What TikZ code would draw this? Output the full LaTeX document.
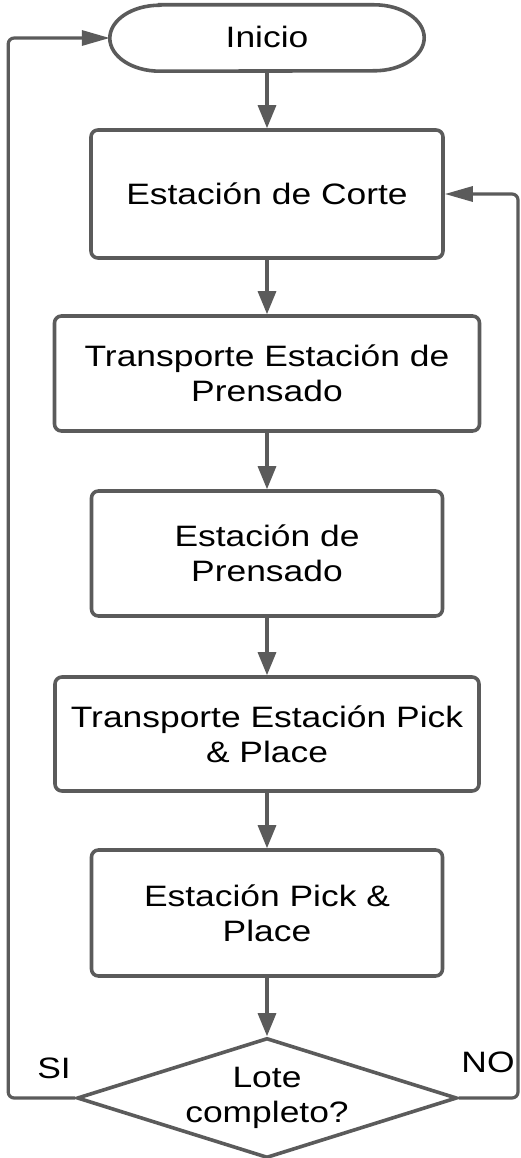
\documentclass[tikz,border=0pt]{standalone}
\usepackage{fontspec}
\setmainfont[FakeStretch=1.2]{Liberation Sans}
\usetikzlibrary{arrows.meta,shapes.geometric,calc}
\definecolor{lc}{HTML}{5B5B5B}
\begin{document}
\begin{tikzpicture}[x=1pt,y=-1pt,
 txt/.style={font=\fontsize{29.5}{35}\selectfont,text=black},
 box/.style={txt,draw=lc,line width=3.6pt,rounded corners=7pt,align=center,inner sep=0pt},
 conn/.style={draw=lc,line width=3.2pt,-{Triangle[length=23pt,width=18pt]}},
 hconn/.style={draw=lc,line width=3.2pt,rounded corners=6pt,-{Triangle[length=28pt,width=15pt]}}]
\useasboundingbox (0,0) rectangle (520,1158);
\node[txt,minimum width=314pt,minimum height=66pt,inner sep=0pt] (ini) at (267,38) {\raisebox{2pt}{Inicio}};
\draw[draw=lc,line width=3.6pt] ($(ini.north west)+(50,0)$) -- ($(ini.north east)+(-50,0)$)
  arc[start angle=-90,end angle=90,x radius=50,y radius=33]
  -- ($(ini.south west)+(50,0)$)
  arc[start angle=90,end angle=270,x radius=50,y radius=33] -- cycle;
\node[box,minimum width=352pt,minimum height=128pt] (corte) at (267,194) {Estación de Corte};
\node[box,minimum width=425pt,minimum height=115pt] (tp) at (267,373.5) {Transporte Estación de\\Prensado};
\node[box,minimum width=351pt,minimum height=125pt] (pr) at (267,553.5) {Estación de\\Prensado};
\node[box,minimum width=424pt,minimum height=114pt] (tpp) at (267,734) {Transporte Estación Pick\\\& Place};
\node[box,minimum width=351pt,minimum height=126pt] (pp) at (267,913) {Estación Pick \&\\Place};
\node[txt,draw=lc,line width=3.6pt,diamond,aspect=3.17,inner sep=0pt,minimum width=380pt,minimum height=120pt,align=center] (dec) at (267,1098) {Lote\\completo?};
\node[txt] (si) at (54,1068) {SI};
\node[txt] (no) at (488,1062) {NO};
\coordinate (nr) at (518,0);
\draw[conn] (ini) -- (corte);
\draw[conn] (corte) -- (tp);
\draw[conn] (tp) -- (pr);
\draw[conn] (pr) -- (tpp);
\draw[conn] (tpp) -- (pp);
\draw[conn] (pp) -- (dec);
\draw[hconn] (dec.west) -- ++(-67,0) |- (ini.west);
\draw[hconn] (dec.east) -- (dec.east -| nr) |- (corte.east);
\end{tikzpicture}
\end{document}
